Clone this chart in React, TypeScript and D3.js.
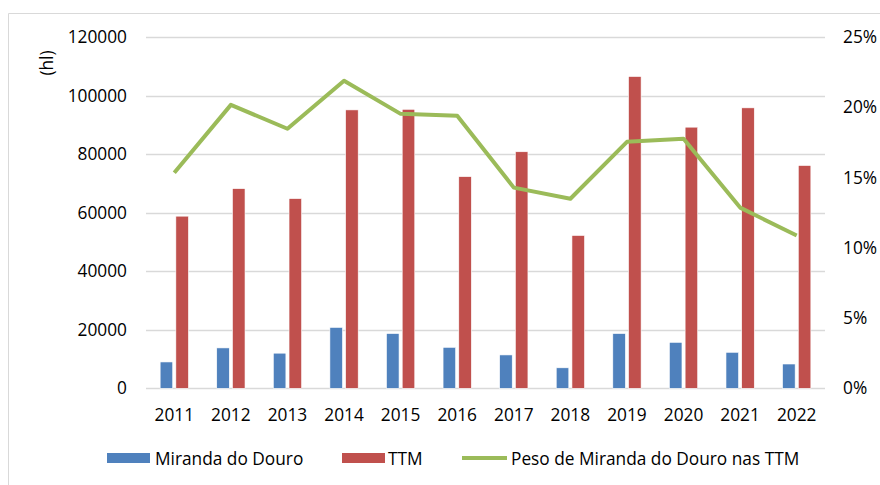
import React from 'react';
import * as d3 from 'd3';

const years = ['2011', '2012', '2013', '2014', '2015', '2016', '2017', '2018', '2019', '2020', '2021', '2022'];
const miranda = [9000, 13800, 12000, 20800, 18700, 14000, 11400, 7000, 18700, 15700, 12300, 8300];
const ttm = [58800, 68200, 64800, 95100, 95300, 72300, 80800, 52200, 106500, 89200, 95800, 76100];
const peso = [0.1534, 0.2017, 0.1847, 0.2188, 0.1953, 0.1939, 0.1428, 0.1349, 0.1754, 0.1776, 0.1286, 0.1087];
const leftTicks = [0, 20000, 40000, 60000, 80000, 100000, 120000];
const rightTicks = [0, 0.05, 0.1, 0.15, 0.2, 0.25];

const font = '"Open Sans", "Liberation Sans", sans-serif';
const fs = 17.3;
const blue = '#4F81BD';
const red = '#C0504D';
const green = '#9BBB59';

export default function App() {
  const x = d3.scaleBand<string>().domain(years).range([146, 825]).paddingInner(0.5).paddingOuter(0.25);
  const xs = d3.scaleBand<string>().domain(['m', 't']).range([0, x.bandwidth()]).paddingInner(0.2);
  const y = d3.scaleLinear().domain([0, 120000]).range([388.3, 37]);
  const y2 = d3.scaleLinear().domain([0, 0.25]).range([388.3, 37]);

  const line = d3.line<number>()
    .x((_, i) => (x(years[i]) as number) + x.bandwidth() / 2)
    .y(d => y2(d));

  return (
    <svg width={880} height={485} style={{ position: 'absolute', left: 0, top: 0, display: 'block' }}>
      <g fontFamily={font} fill="#000">
        <rect x={0} y={0} width={880} height={485} fill="#fff" />
        <path d="M8.5,490V13.5H890" fill="none" stroke="#d9d9d9" strokeWidth={1} />
        {leftTicks.map(t => (
          <g key={t}>
            <line x1={146} x2={825} y1={Math.round(y(t)) + 0.5} y2={Math.round(y(t)) + 0.5} stroke="#d9d9d9" strokeWidth={1.3} />
            <text x={127} y={y(t) + 6} textAnchor="end" fontSize={fs}>{t}</text>
          </g>
        ))}
        {rightTicks.map(t => (
          <text key={t} x={843} y={y2(t) + 6} fontSize={fs}>{`${Math.round(t * 100)}%`}</text>
        ))}
        <text transform="translate(53,63) rotate(-90)" textAnchor="middle" fontSize={fs}>(hl)</text>
        {years.map((yr, i) => (
          <g key={yr}>
            <rect x={(x(yr) as number) + (xs('m') as number)} y={y(miranda[i])} width={xs.bandwidth()} height={y(0) - y(miranda[i])} fill={blue} stroke="#fff" strokeWidth={0.6} />
            <rect x={(x(yr) as number) + (xs('t') as number)} y={y(ttm[i])} width={xs.bandwidth()} height={y(0) - y(ttm[i])} fill={red} stroke="#fff" strokeWidth={0.6} />
            <text x={(x(yr) as number) + x.bandwidth() / 2} y={421} textAnchor="middle" fontSize={fs}>{yr}</text>
          </g>
        ))}
        <path d={line(peso) || ''} fill="none" stroke={green} strokeWidth={4} strokeLinejoin="round" />
        <g fontSize={fs}>
          <rect x={107} y={453} width={43} height={10} fill={blue} />
          <text x={155} y={465}>Miranda do Douro</text>
          <rect x={342} y={453} width={43} height={10} fill={red} />
          <text x={388} y={465}>TTM</text>
          <line x1={462} x2={507} y1={458} y2={458} stroke={green} strokeWidth={4} />
          <text x={511} y={465}>Peso de Miranda do Douro nas TTM</text>
        </g>
      </g>
    </svg>
  );
}
